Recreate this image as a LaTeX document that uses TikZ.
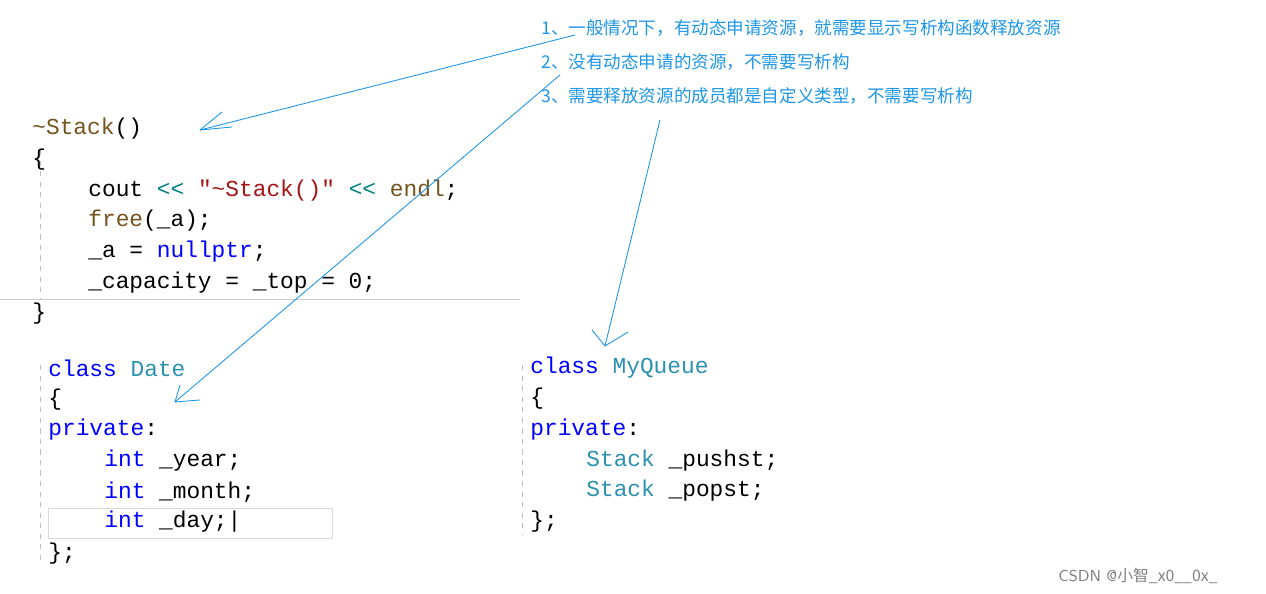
\documentclass[tikz,border=0pt]{standalone}
\usepackage{fontspec}
\setmonofont{Liberation Mono}
\newfontfamily\cjk{Noto Sans CJK SC}
\begin{document}
\definecolor{kw}{RGB}{0,0,255}
\definecolor{ty}{RGB}{43,145,175}
\definecolor{st}{RGB}{163,21,21}
\definecolor{fn}{RGB}{116,83,31}
\definecolor{op}{RGB}{0,128,128}
\definecolor{an}{RGB}{30,150,230}
\begin{tikzpicture}[x=0.02cm,y=-0.02cm,
  code/.style={anchor=west,inner sep=0pt,font=\ttfamily\fontsize{13}{15}\selectfont},
  note/.style={anchor=west,inner sep=0pt,text=an,font=\cjk\fontsize{10}{12}\selectfont},
  arr/.style={draw=an,line width=0.5pt}]
\useasboundingbox (0,0) rectangle (1266,594);
\draw[gray!40] (0,299) -- (520,299);
\draw[gray!50,dashed] (40,150) -- (40,298);
\draw[gray!50,dashed] (40,365) -- (40,565);
\draw[gray!50,dashed] (522,365) -- (522,535);
\draw[gray!30] (48,508) rectangle (332,538);
\node[code] (s1) at (32,129) {\color{fn}\textasciitilde Stack\color{black}()};
\node[code] (s2) at (32,160) {\{};
\node[code] (s3) at (88,191) {cout \color{op}<< \color{st}"\textasciitilde Stack()" \color{op}<< \color{fn}endl\color{black};};
\node[code] (s4) at (88,221) {\color{fn}free\color{black}(\_a);};
\node[code] (s5) at (88,252) {\_a = \color{kw}nullptr\color{black};};
\node[code] (s6) at (88,283) {\_capacity = \_top = 0;};
\node[code] (s7) at (32,314) {\}};
\node[code] (d1) at (48,368) {\color{kw}class \color{ty}Date};
\node[code] (d2) at (48,400) {\{};
\node[code] (d3) at (48,430) {\color{kw}private\color{black}:};
\node[code] (d4) at (104,461) {\color{kw}int \color{black}\_year;};
\node[code] (d5) at (104,492) {\color{kw}int \color{black}\_month;};
\node[code] (d6) at (104,522) {\color{kw}int \color{black}\_day;|};
\node[code] (d7) at (48,554) {\};};
\node[code] (q1) at (530,368) {\color{kw}class \color{ty}MyQueue};
\node[code] (q2) at (530,399) {\{};
\node[code] (q3) at (530,430) {\color{kw}private\color{black}:};
\node[code] (q4) at (586,461) {\color{ty}Stack \color{black}\_pushst;};
\node[code] (q5) at (586,491) {\color{ty}Stack \color{black}\_popst;};
\node[code] (q6) at (530,522) {\};};
\node[note] (n1) at (541,28) {1、一般情况下，有动态申请资源，就需要显示写析构函数释放资源};
\node[note] (n2) at (541,62) {2、没有动态申请的资源，不需要写析构};
\node[note] (n3) at (541,96) {3、需要释放资源的成员都是自定义类型，不需要写析构};
\node[anchor=west,inner sep=0pt,text=gray,font=\sffamily\fontsize{9}{11}\selectfont] (w) at (1058,576) {CSDN @\cjk 小智\_x0\_\_0x\_};
\coordinate (a1) at (200,130); \coordinate (a2) at (175,402); \coordinate (a3) at (605,346);
\draw[arr] (575,35) -- (a1);
\draw[arr] (a1) -- (222,112); \draw[arr] (a1) -- (232,127);
\draw[arr] (560,75) -- (a2);
\draw[arr] (a2) -- (180,385); \draw[arr] (a2) -- (200,400);
\draw[arr] (660,120) -- (a3);
\draw[arr] (a3) -- (592,330); \draw[arr] (a3) -- (628,332);
\end{tikzpicture}
\end{document}
